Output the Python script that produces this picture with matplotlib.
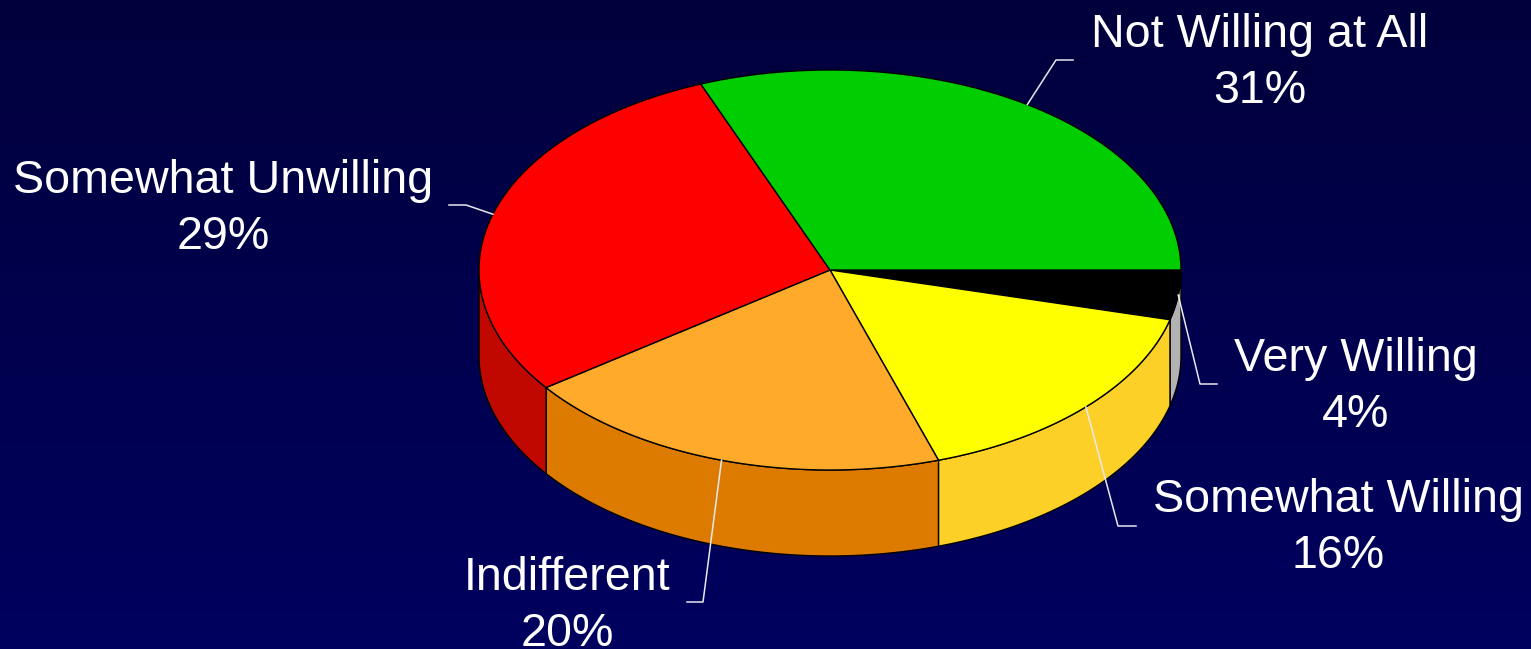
import numpy as np
import matplotlib
matplotlib.use("Agg")
import matplotlib.pyplot as plt

# clockwise from due east
categories = ["Very Willing", "Somewhat Willing", "Indifferent", "Somewhat Unwilling", "Not Willing at All"]
values = [4, 16, 20, 29, 31]
top_colors = ["#000000", "#FFFF00", "#FFAA2B", "#FF0000", "#00CE00"]
side_colors = ["#B2B2B2", "#FDD028", "#DD7A00", "#C00800", "#00A000"]

### DISPLAY SETTINGS ###
WIDTH = 1531
HEIGHT = 649
CX, CY = 830, 270
RX, RY = 351, 200
DEPTH = 86
FONT = "Liberation Sans"
FONT_SIZE = 33.6

# label centre (x, first line y), elbow of the leader, end of the leader
label_pos = {
    "Not Willing at All": (1260, 35, (1056, 60), (1073, 60)),
    "Somewhat Unwilling": (223, 181, (466, 205), (449, 205)),
    "Indifferent": (567, 578, (703, 602), (687, 602)),
    "Somewhat Willing": (1338, 500, (1118, 526), (1136, 526)),
    "Very Willing": (1356, 359, (1200, 384), (1217, 384)),
}


def ellipse(t, dy=0):
    t = np.radians(t)
    return CX + RX * np.cos(t), CY + RY * np.sin(t) + dy


fig = plt.figure(figsize=(WIDTH / 100, HEIGHT / 100), dpi=100)
ax = fig.add_axes([0, 0, 1, 1])

# background gradient
grad = np.linspace(0, 1, 256).reshape(-1, 1)
cmap = matplotlib.colors.LinearSegmentedColormap.from_list("bg", ["#00003C", "#00005F"])
ax.imshow(grad, extent=(0, WIDTH, HEIGHT, 0), aspect="auto", cmap=cmap, zorder=0)

edges = np.cumsum([0] + values) / sum(values) * 360

# side walls, only the front half shows
for i in range(len(values)):
    a, b = edges[i], min(edges[i + 1], 180)
    if a >= 180:
        continue
    t = np.linspace(a, b, 100)
    x, y = ellipse(t)
    xb, yb = ellipse(t, DEPTH)
    ax.fill(np.r_[x, xb[::-1]], np.r_[y, yb[::-1]], facecolor=side_colors[i],
            edgecolor="black", linewidth=1.0, zorder=2)

# top face
for i in range(len(values)):
    t = np.linspace(edges[i], edges[i + 1], 200)
    x, y = ellipse(t)
    ax.fill(np.r_[CX, x], np.r_[CY, y], facecolor=top_colors[i],
            edgecolor="black", linewidth=1.0, zorder=3)

# labels and leaders
for i, name in enumerate(categories):
    tx, ty, elbow, end = label_pos[name]
    ax.text(tx, ty, name, color="white", family=FONT, fontsize=FONT_SIZE,
            ha="center", va="center", zorder=5)
    ax.text(tx, ty + 56, f"{values[i]}%", color="white", family=FONT, fontsize=FONT_SIZE,
            ha="center", va="center", zorder=5)
    mid = (edges[i] + edges[i + 1]) / 2
    ax_, ay_ = ellipse(mid)
    ax.plot([ax_, elbow[0], end[0]], [ay_, elbow[1], end[1]], color="#E8E8F0",
            linewidth=1.1, zorder=4)

ax.set_xlim(0, WIDTH)
ax.set_ylim(HEIGHT, 0)
ax.axis("off")
fig.savefig("out.png", dpi=100)
